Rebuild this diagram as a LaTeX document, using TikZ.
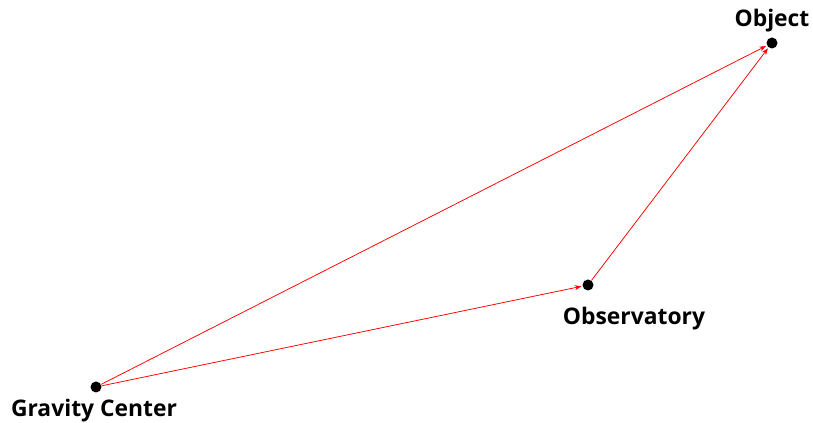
\documentclass[tikz,border=0pt]{standalone}
\usepackage{fontspec}
\setmainfont{Open Sans}
\usetikzlibrary{arrows.meta}
\begin{document}
\begin{tikzpicture}[x=0.3mm,y=-0.3mm,
    pt/.style={circle,fill=black,inner sep=0pt,minimum size=3.3mm},
    lbl/.style={font=\bfseries\fontsize{19.5}{22}\selectfont},
    vec/.style={red,line width=0.65pt,-{Stealth[length=2mm,width=1.5mm]},shorten >=0.3mm}]
        \useasboundingbox (0,0) rectangle (813,423);
        \node[pt] (g) at (96,387) {};
        \node[pt] (obs) at (588,285) {};
        \node[pt] (obj) at (772,43) {};
        \node[lbl] at (94,411) {Gravity Center};
        \node[lbl] at (634,319) {Observatory};
        \node[lbl] at (772,21) {Object};
        \draw[vec] (g) -- (obj);
        \draw[vec] (g) -- (obs);
        \draw[vec] (obs) -- (obj);
    \end{tikzpicture}
\end{document}
